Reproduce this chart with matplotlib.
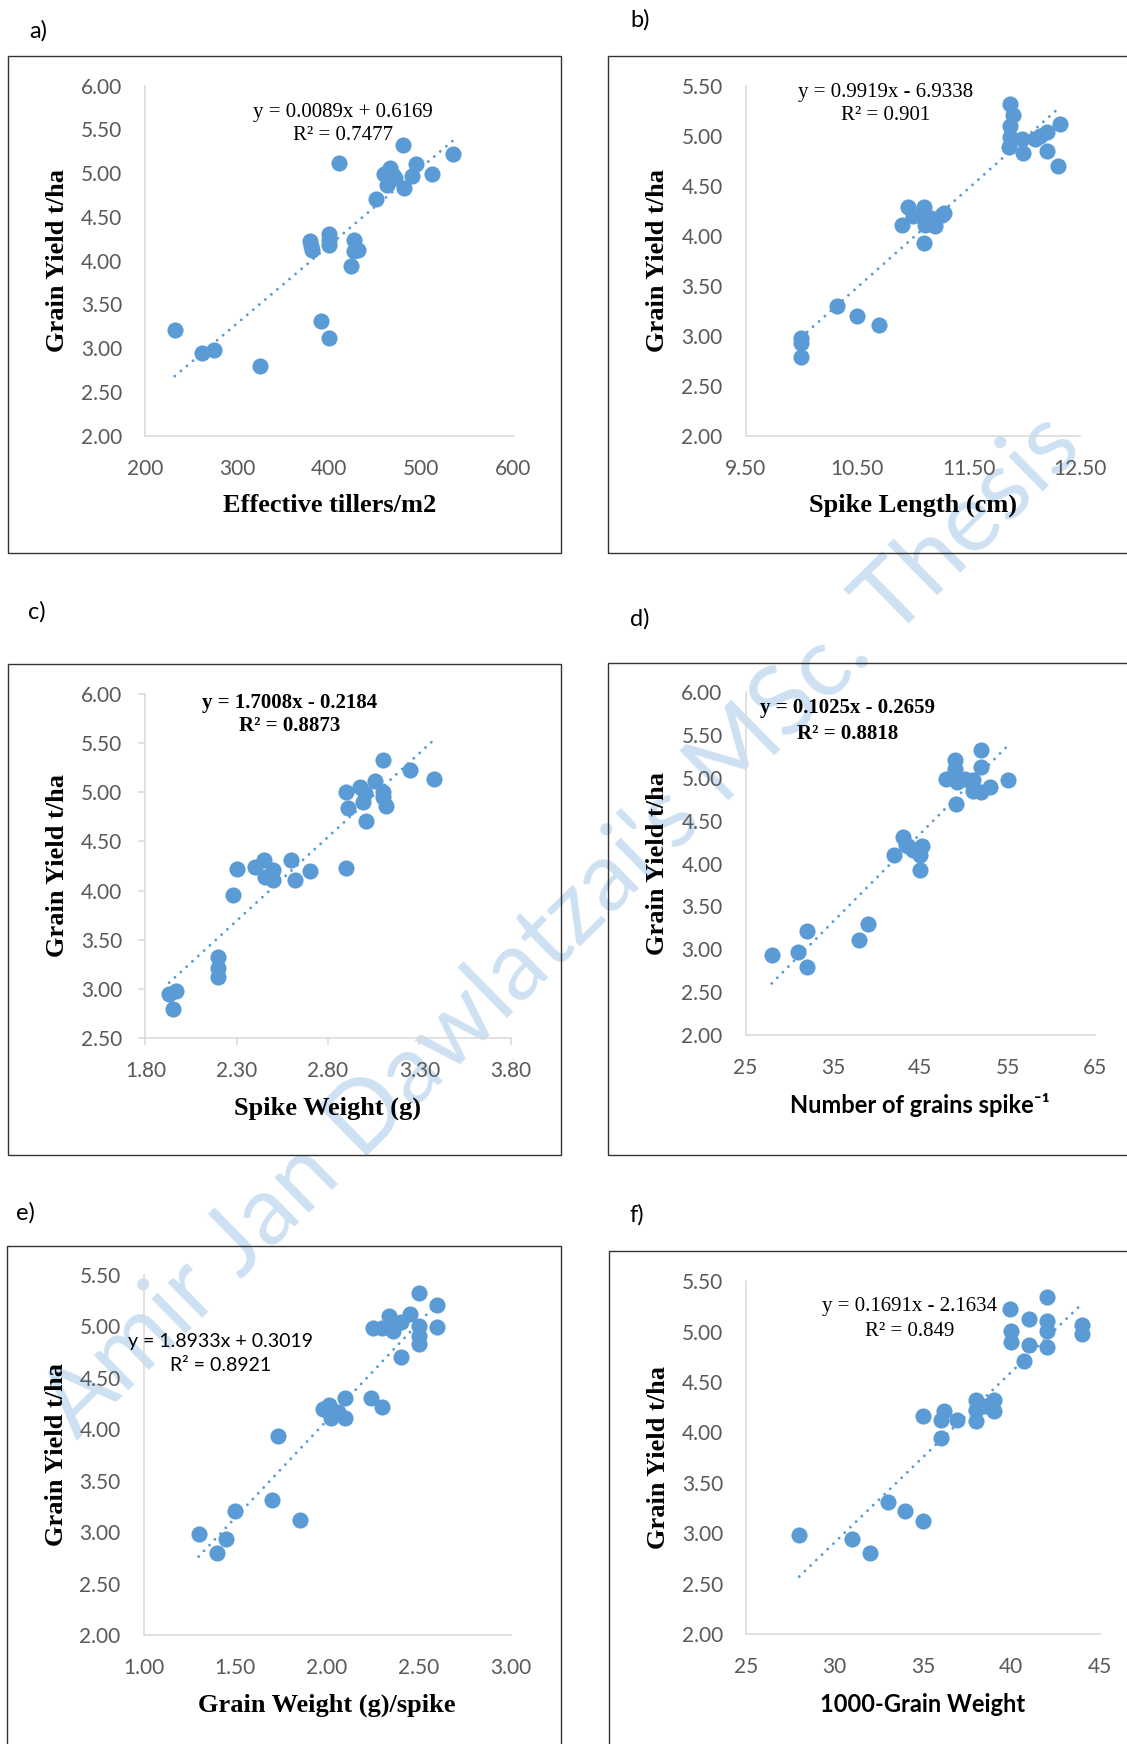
import numpy as np
import matplotlib.pyplot as plt
from matplotlib.patches import Rectangle
from matplotlib.ticker import FormatStrFormatter

W, H = 1127, 1744
BLUE = '#5B9BD5'
GREY = '#595959'
AXIS = '#D9D9D9'
SANS = ['Lato', 'DejaVu Sans']
SERIF = 'Liberation Serif'

# a) effective tillers
till_x = [232, 262, 275, 325, 391, 400, 379, 380, 381, 399, 399, 400, 427, 427, 431, 423,
          410, 451, 459, 463, 466, 469, 471, 480, 481, 490, 494, 511, 534]
till_y = [3.21, 2.94, 2.98, 2.80, 3.31, 3.12, 4.22, 4.17, 4.12, 4.30, 4.24, 4.18, 4.24, 4.11,
          4.12, 3.94, 5.12, 4.70, 4.99, 4.86, 5.06, 4.98, 4.95, 5.32, 4.83, 4.97, 5.10, 4.99, 5.22]

# b) spike length
slen_x = [10.0, 10.0, 10.0, 10.32, 10.5, 10.7, 10.9, 10.96, 11.0, 11.1, 11.1, 11.11, 11.16, 11.2,
          11.1, 11.26, 11.28, 11.87, 11.9, 11.87, 11.87, 11.86, 11.98, 11.99, 12.1, 12.14, 12.2,
          12.32, 12.2, 12.3]
slen_y = [2.98, 2.93, 2.79, 3.30, 3.20, 3.11, 4.11, 4.29, 4.20, 4.29, 4.20, 4.11, 4.18, 4.10,
          3.93, 4.21, 4.23, 5.32, 5.21, 5.10, 4.99, 4.89, 4.97, 4.83, 4.97, 5.00, 5.04, 5.12,
          4.85, 4.70]

# c) spike weight
swt_x = [1.93, 1.97, 1.95, 2.20, 2.20, 2.20, 2.28, 2.30, 2.40, 2.45, 2.455, 2.50, 2.50, 2.60,
         2.62, 2.70, 2.90, 2.90, 2.91, 2.975, 3.00, 2.99, 3.01, 3.06, 3.10, 3.10, 3.10, 3.12,
         3.25, 3.38]
swt_y = [2.95, 2.98, 2.80, 3.32, 3.21, 3.12, 3.95, 4.22, 4.24, 4.31, 4.14, 4.21, 4.11, 4.31,
         4.11, 4.20, 4.23, 5.00, 4.84, 5.05, 4.99, 4.90, 4.71, 5.11, 5.33, 5.00, 4.95, 4.86,
         5.22, 5.13]

# d) grains per spike
gps_x = [28, 31, 32, 32, 38, 39, 42, 43, 43.4, 43.6, 44.2, 44.7, 45.2, 45, 45, 47.9, 49, 49,
         49.2, 50.1, 51, 51, 52, 52, 52, 53, 55, 49.1]
gps_y = [2.93, 2.97, 3.21, 2.79, 3.11, 3.30, 4.10, 4.31, 4.22, 4.20, 4.16, 4.14, 4.20, 4.10,
         3.93, 4.98, 5.21, 5.10, 4.95, 4.99, 4.97, 4.85, 5.32, 5.12, 4.83, 4.89, 4.97, 4.69]

# e) grain weight per spike
gw_x = [1.30, 1.40, 1.45, 1.50, 1.70, 1.73, 1.85, 1.98, 2.01, 2.02, 2.06, 2.10, 2.10, 2.24,
        2.30, 2.25, 2.30, 2.34, 2.36, 2.40, 2.45, 2.40, 2.50, 2.50, 2.50, 2.50, 2.60, 2.60]
gw_y = [2.98, 2.80, 2.93, 3.21, 3.31, 3.93, 3.12, 4.20, 4.24, 4.11, 4.17, 4.30, 4.11, 4.30,
        4.22, 4.98, 4.98, 5.10, 4.95, 5.04, 5.12, 4.70, 5.32, 5.00, 4.91, 4.83, 5.21, 4.99]

# f) 1000-grain weight
tgw_x = [28, 31, 32, 33, 34, 35, 35, 36, 36, 36.2, 36.9, 38, 38, 38, 38.5, 39, 39, 39.9, 40,
         40, 40.7, 41, 41, 42, 42, 42, 42, 44, 44]
tgw_y = [2.98, 2.94, 2.81, 3.31, 3.22, 3.12, 4.16, 3.95, 4.12, 4.21, 4.12, 4.32, 4.22, 4.11,
         4.26, 4.32, 4.21, 5.22, 5.01, 4.90, 4.71, 5.13, 4.87, 5.34, 5.11, 5.01, 4.85, 5.07, 4.98]

# trendline coefficients as printed on the chart
slopes = [0.0089, 0.9919, 1.7008, 0.1025, 1.8933, 0.1691]
intercepts = [0.6169, -6.9338, -0.2184, -0.2659, 0.3019, -2.1634]
eq_text = ['y = 0.0089x + 0.6169', 'y = 0.9919x - 6.9338', 'y = 1.7008x - 0.2184',
           'y = 0.1025x - 0.2659', 'y = 1.8933x + 0.3019', 'y = 0.1691x - 2.1634']
r2_text = ['R² = 0.7477', 'R² = 0.901', 'R² = 0.8873', 'R² = 0.8818', 'R² = 0.8921', 'R² = 0.849']
xlabels = ['Effective tillers/m2', 'Spike Length (cm)', 'Spike Weight (g)',
           'Number of grains spike⁻¹', 'Grain Weight (g)/spike', '1000-Grain Weight']
letters = ['a)', 'b)', 'c)', 'd)', 'e)', 'f)']

xs = [till_x, slen_x, swt_x, gps_x, gw_x, tgw_x]
ys = [till_y, slen_y, swt_y, gps_y, gw_y, tgw_y]

# layout in pixels: (left, top, right, bottom)
ax_px = [(145.4, 85.7, 513.5, 435.7), (745.5, 85.7, 1080, 435.7),
         (145.4, 693.6, 510.6, 1038.2), (745.5, 691.8, 1095.1, 1035.3),
         (143.6, 1274.8, 510.6, 1635.2), (746.2, 1281.2, 1099.8, 1634.2)]
box_px = [(8.3, 56, 561, 553), (608.4, 56, 1140, 553),
          (8.3, 663.8, 561, 1154.5), (608.4, 662.7, 1140, 1154.5),
          (6.5, 1245.5, 561, 1760), (609.4, 1250.8, 1140, 1760)]
letter_px = [(29, 31), (630, 20), (28, 612), (630, 619), (16, 1213), (630, 1215)]
eq_px = [(343, 112, 136), (886, 93, 116), (290, 703, 726),
         (848, 708, 734), (221, 1341, 1365), (910, 1306, 1331)]
xlims = [(200, 600), (9.5, 12.5), (1.8, 3.8), (25, 65), (1, 3), (25, 45)]
ylims = [(2, 6), (2, 5.5), (2.5, 6), (2, 6), (2, 5.5), (2, 5.5)]
xsteps = [100, 1.0, 0.5, 10, 0.5, 5]
xfmts = ['%d', '%.2f', '%.2f', '%d', '%.2f', '%d']

fig = plt.figure(figsize=(W / 100, H / 100), dpi=100)

for i in range(6):
    l, t, r, b = ax_px[i]
    ax = fig.add_axes([l / W, 1 - b / H, (r - l) / W, (b - t) / H])
    ax.set_facecolor('none')
    ax.scatter(xs[i], ys[i], s=135, color=BLUE, linewidths=0, zorder=3)

    tx = np.array([min(xs[i]), max(xs[i])])
    ax.plot(tx, slopes[i] * tx + intercepts[i], color=BLUE, lw=2.1,
            linestyle=(0, (0.01, 2.7)), dash_capstyle='round', zorder=4)

    x0, x1 = xlims[i]
    y0, y1 = ylims[i]
    ax.set_xlim(x0, x1)
    ax.set_ylim(y0, y1)
    ax.set_xticks(np.arange(x0, x1 + xsteps[i] / 2, xsteps[i]))
    ax.set_yticks(np.arange(y0, y1 + 0.25, 0.5))
    ax.xaxis.set_major_formatter(FormatStrFormatter(xfmts[i]))
    ax.yaxis.set_major_formatter(FormatStrFormatter('%.2f'))

    for side in ['top', 'right']:
        ax.spines[side].set_visible(False)
    for side in ['left', 'bottom']:
        ax.spines[side].set_color(AXIS)
        ax.spines[side].set_linewidth(1.1)

    if i == 2:
        ax.tick_params(length=5, width=1.1, color=AXIS, pad=11.5)
    else:
        ax.tick_params(length=0, pad=16.5)
    ax.tick_params(labelsize=15, labelcolor=GREY)
    for lab in ax.get_xticklabels() + ax.get_yticklabels():
        lab.set_family(SANS)

    ax.set_ylabel('Grain Yield t/ha', family=SERIF, weight='bold', fontsize=19, va='center')
    ax.yaxis.set_label_coords(-87.5 / (r - l), 0.5)
    if i in (3, 5):
        ax.set_xlabel(xlabels[i], family=SANS, weight='bold', fontsize=17, va='center')
    else:
        ax.set_xlabel(xlabels[i], family=SERIF, weight='bold', fontsize=19, va='center')
    ax.xaxis.set_label_coords(0.5, -70 / (b - t))

    # equation and R squared
    ex, ey1, ey2 = eq_px[i]
    if i == 4:
        kw = dict(family=SANS, fontsize=14)
    elif i in (2, 3):
        kw = dict(family=SERIF, fontsize=15, weight='bold')
    else:
        kw = dict(family=SERIF, fontsize=15)
    fig.text(ex / W, 1 - ey1 / H, eq_text[i], ha='center', va='center', **kw)
    fig.text(ex / W, 1 - ey2 / H, r2_text[i], ha='center', va='center', **kw)

    bl, bt, br, bb = box_px[i]
    fig.add_artist(Rectangle((bl / W, 1 - bb / H), (br - bl) / W, (bb - bt) / H,
                             transform=fig.transFigure, fill=False, ec='#333333', lw=1.0))
    fig.text(letter_px[i][0] / W, 1 - letter_px[i][1] / H, letters[i], family=SANS,
             fontsize=17, ha='left', va='center')

# watermark
fig.text(0.4987, 0.469, "Amir Jan Dawlatzai's MSc. Thesis", rotation=44.5,
         ha='center', va='center', fontsize=70, family=SANS, color=BLUE, alpha=0.3, zorder=-1)

fig.savefig('out.png', dpi=100)
